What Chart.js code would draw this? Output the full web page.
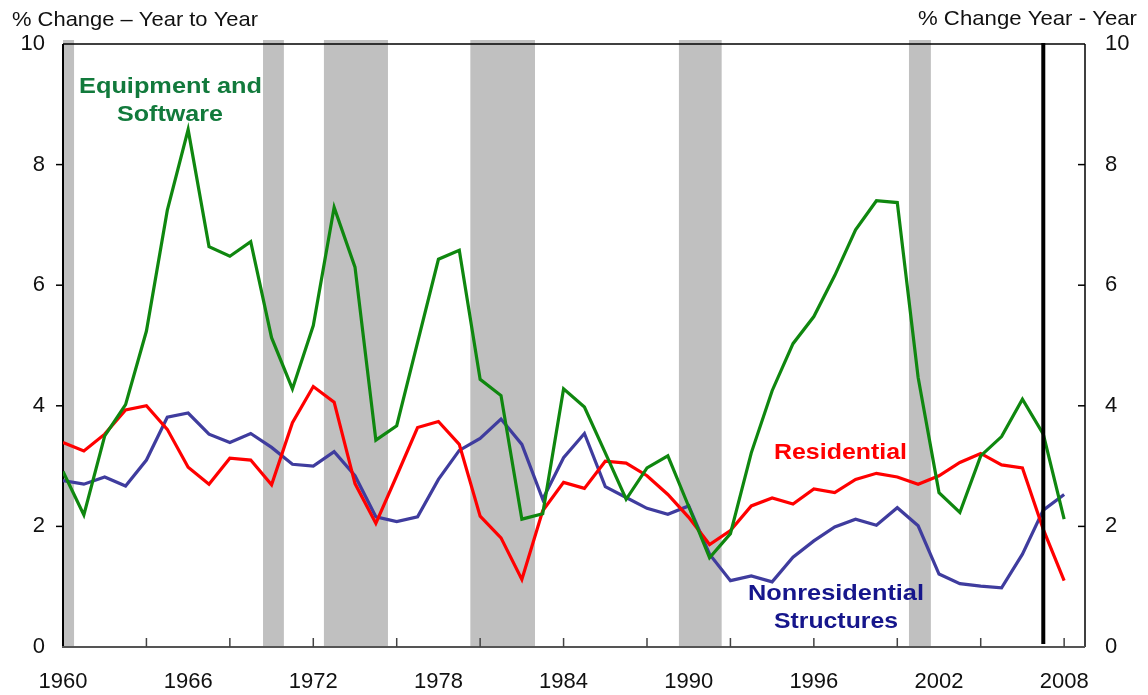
<!DOCTYPE html>
<html><head><meta charset="utf-8">
<script src="https://cdn.jsdelivr.net/npm/chart.js@4.4.1/dist/chart.umd.min.js"></script>
<style>html,body{margin:0;padding:0;background:#fff;}#wrap{width:1148px;height:695px;position:relative;}</style>
</head><body><div id="wrap"><canvas id="c" width="1148" height="695"></canvas></div>
<script>
const years = [1960,1961,1962,1963,1964,1965,1966,1967,1968,1969,
  1970,1971,1972,1973,1974,1975,1976,1977,1978,1979,
  1980,1981,1982,1983,1984,1985,1986,1987,1988,1989,
  1990,1991,1992,1993,1994,1995,1996,1997,1998,1999,
  2000,2001,2002,2003,2004,2005,2006,2007,2008];
const equipmentSoftware = [2.91,2.19,3.50,4.02,5.24,7.24,8.58,6.64,6.48,6.72,
  5.13,4.28,5.33,7.29,6.30,3.43,3.67,5.05,6.43,6.58,
  4.44,4.17,2.12,2.21,4.28,3.98,3.22,2.45,2.97,3.17,
  2.33,1.48,1.88,3.22,4.25,5.03,5.48,6.16,6.92,7.40,
  7.37,4.47,2.56,2.23,3.17,3.49,4.11,3.53,2.12];
const residential = [3.39,3.25,3.53,3.93,4.00,3.61,2.98,2.70,3.13,3.10,
  2.69,3.72,4.32,4.06,2.71,2.05,2.84,3.64,3.74,3.36,
  2.17,1.81,1.12,2.26,2.73,2.63,3.08,3.05,2.84,2.53,
  2.15,1.70,1.93,2.34,2.47,2.37,2.62,2.56,2.78,2.88,
  2.82,2.70,2.84,3.06,3.21,3.02,2.97,1.95,1.10];
const nonresStructures = [2.76,2.70,2.82,2.67,3.10,3.81,3.88,3.53,3.39,3.54,
  3.31,3.03,3.00,3.24,2.84,2.16,2.08,2.16,2.78,3.26,
  3.46,3.78,3.36,2.45,3.14,3.54,2.66,2.48,2.30,2.20,
  2.34,1.54,1.10,1.18,1.08,1.49,1.76,1.99,2.12,2.02,
  2.31,2.01,1.21,1.05,1.01,0.98,1.54,2.27,2.53];
const recessionStarts = [1960.0, 1969.59, 1972.51, 1979.53, 1989.53, 2000.56];
const recessionEnds   = [1960.53, 1970.59, 1975.58, 1982.63, 1991.58, 2001.61];
const markerYear = 2007;
const xLabelYears = [1960,1966,1972,1978,1984,1990,1996,2002,2008];
const xTickMarkYears = [1964,1968,1972,1976,1980,1984,1988,1992,1996,2000,2004,2008];
const yTickValues = [0,2,4,6,8,10];
const yTickMarks = [2,4,6,8];
const leftAxisTitle = '% Change \u2013 Year to Year';
const rightAxisTitle = '% Change Year - Year';

const FONT = "'Liberation Sans', Arial, sans-serif";

function pts(vals){ return years.map((y,i)=>({x:y, y:vals[i]})); }

function drawFitted(ctx, text, x, baseline, width, font, color, align){
  ctx.save();
  ctx.font = font; ctx.fillStyle = color; ctx.textBaseline = 'alphabetic';
  const w = ctx.measureText(text).width;
  const sx = width / w;
  ctx.translate(x, baseline); ctx.scale(sx, 1);
  ctx.textAlign = align || 'left';
  ctx.fillText(text, 0, 0);
  ctx.restore();
}

const decor = {
  id: 'decor',
  beforeDatasetsDraw(chart){
    const {ctx, chartArea:a, scales} = chart;
    const xs = scales.x, ys = scales.y;
    ctx.save();
    ctx.fillStyle = '#c0c0c0';
    for (let i=0;i<recessionStarts.length;i++){
      const x0 = xs.getPixelForValue(recessionStarts[i]);
      const x1 = xs.getPixelForValue(recessionEnds[i]);
      ctx.fillRect(x0, a.top-4, x1-x0, a.bottom-(a.top-4));
    }
    // frame
    ctx.lineCap = 'butt';
    ctx.strokeStyle = '#000'; ctx.lineWidth = 1.5;
    ctx.beginPath(); ctx.moveTo(a.left, a.top); ctx.lineTo(a.right, a.top); ctx.stroke();
    ctx.beginPath(); ctx.moveTo(a.right, a.top); ctx.lineTo(a.right, a.bottom); ctx.stroke();
    ctx.lineWidth = 2;
    ctx.beginPath(); ctx.moveTo(a.left, a.top); ctx.lineTo(a.left, a.bottom); ctx.stroke();
    ctx.strokeStyle = '#555';
    ctx.beginPath(); ctx.moveTo(a.left-1, a.bottom); ctx.lineTo(a.right, a.bottom); ctx.stroke();
    // y tick marks
    ctx.strokeStyle = '#000'; ctx.lineWidth = 1.5;
    yTickMarks.forEach(v=>{
      const y = ys.getPixelForValue(v);
      ctx.beginPath(); ctx.moveTo(a.left-7, y); ctx.lineTo(a.left, y); ctx.stroke();
      ctx.beginPath(); ctx.moveTo(a.right-7, y); ctx.lineTo(a.right, y); ctx.stroke();
    });
    // x tick marks
    ctx.strokeStyle = '#444';
    xTickMarkYears.forEach(v=>{
      const x = xs.getPixelForValue(v);
      ctx.beginPath(); ctx.moveTo(x, a.bottom-9); ctx.lineTo(x, a.bottom); ctx.stroke();
    });
    ctx.restore();
  },
  afterDatasetsDraw(chart){
    const {ctx, chartArea:a, scales} = chart;
    const x = scales.x.getPixelForValue(markerYear);
    ctx.save();
    ctx.strokeStyle = '#000'; ctx.lineWidth = 4;
    ctx.beginPath(); ctx.moveTo(x, a.top-1); ctx.lineTo(x, a.bottom-3); ctx.stroke();
    ctx.restore();
  },
  afterDraw(chart){
    const ctx = chart.ctx;
    drawFitted(ctx, leftAxisTitle, 12, 26, 246, "21px "+FONT, '#111', 'left');
    drawFitted(ctx, rightAxisTitle, 918, 25, 219, "21px "+FONT, '#111', 'left');
    const b = "bold 22px "+FONT;
    drawFitted(ctx, 'Equipment and', 170.5, 93, 183, b, '#127a3c', 'center');
    drawFitted(ctx, 'Software', 170, 121, 106, b, '#127a3c', 'center');
    drawFitted(ctx, 'Residential', 840.5, 459, 133, b, '#ff0000', 'center');
    drawFitted(ctx, 'Nonresidential', 836, 600, 176, b, '#16168c', 'center');
    drawFitted(ctx, 'Structures', 836, 628, 124, b, '#16168c', 'center');
  }
};

const tickFont = {family: FONT, size: 22};

new Chart(document.getElementById('c'), {
  type: 'line',
  data: {
    datasets: [
      {label:'Equipment and Software', data: pts(equipmentSoftware), borderColor:'#0f870f', borderWidth:3.2, pointRadius:0, tension:0, fill:false},
      {label:'Residential', data: pts(residential), borderColor:'#ff0000', borderWidth:3.2, pointRadius:0, tension:0, fill:false},
      {label:'Nonresidential Structures', data: pts(nonresStructures), borderColor:'#3f3c9e', borderWidth:3.2, pointRadius:0, tension:0, fill:false}
    ]
  },
  options: {
    responsive: false,
    animation: false,
    events: [],
    layout: {padding: {top: 44, left: 0, right: 0, bottom: 0}},
    plugins: {legend: {display: false}, tooltip: {enabled: false}, title: {display:false}},
    scales: {
      x: {
        type: 'linear', position: 'bottom', min: 1960, max: 2009,
        afterBuildTicks(s){ s.ticks = xLabelYears.map(v=>({value:v})); },
        afterFit(s){ s.height = 48; },
        grid: {display: false, drawTicks: false},
        border: {display: false},
        ticks: {autoSkip: false, maxRotation: 0, font: tickFont, color: '#111', padding: 22,
          callback: v => String(v)}
      },
      y: {
        position: 'left', min: 0, max: 10,
        afterBuildTicks(s){ s.ticks = yTickValues.map(v=>({value:v})); },
        afterFit(s){ s.width = 63; },
        grid: {display: false, drawTicks: false},
        border: {display: false},
        ticks: {font: tickFont, color: '#111', padding: 18, callback: v => String(v)}
      },
      y2: {
        position: 'right', min: 0, max: 10,
        afterBuildTicks(s){ s.ticks = yTickValues.map(v=>({value:v})); },
        afterFit(s){ s.width = 63; },
        grid: {display: false, drawTicks: false},
        border: {display: false},
        ticks: {font: tickFont, color: '#111', padding: 20, callback: v => String(v)}
      }
    }
  },
  plugins: [decor]
});
</script>
</body></html>
